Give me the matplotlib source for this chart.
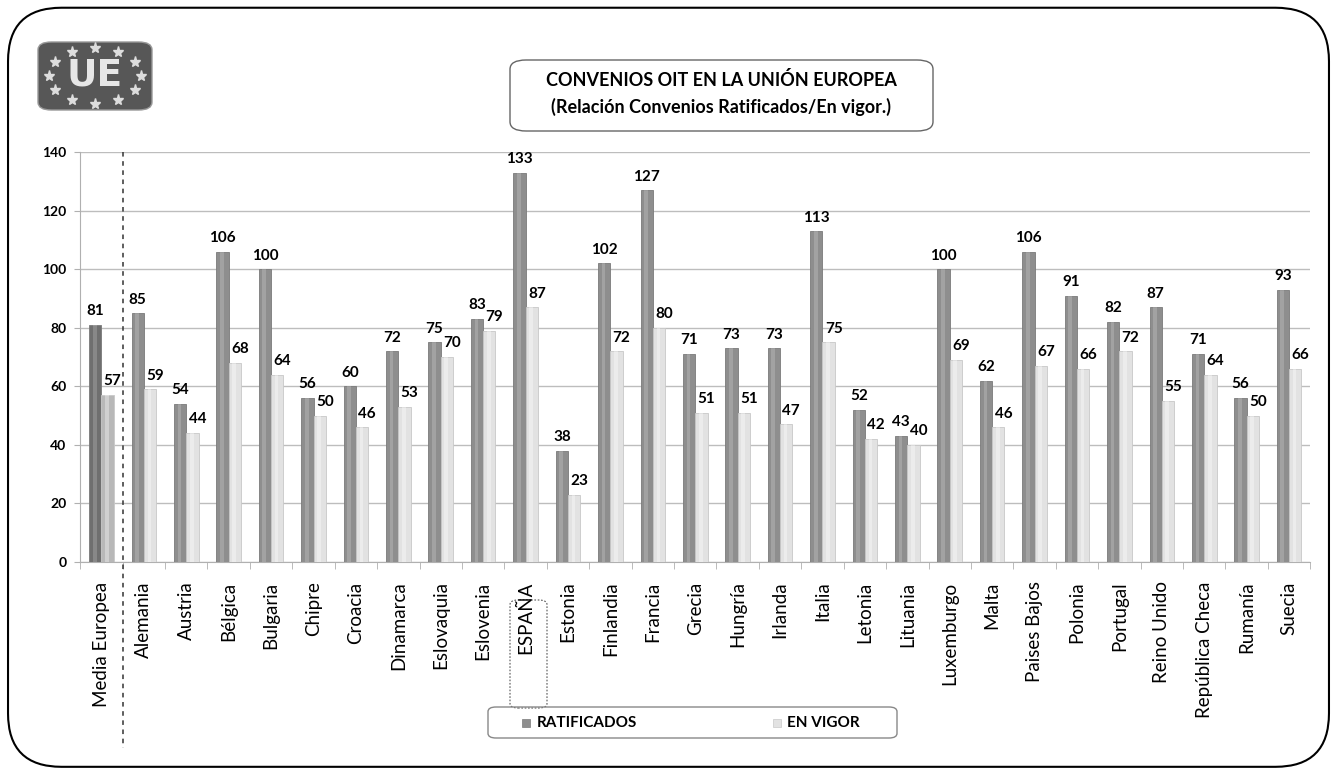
import numpy as np
import matplotlib
matplotlib.use("Agg")
import matplotlib.pyplot as plt
from matplotlib.patches import FancyBboxPatch
from matplotlib.transforms import blended_transform_factory

plt.rcParams['font.family'] = ['Lato', 'DejaVu Sans']

paises = ["Media Europea", "Alemania", "Austria", "Bélgica", "Bulgaria", "Chipre",
          "Croacia", "Dinamarca", "Eslovaquia", "Eslovenia", "ESPAÑA", "Estonia",
          "Finlandia", "Francia", "Grecia", "Hungría", "Irlanda", "Italia", "Letonia",
          "Lituania", "Luxemburgo", "Malta", "Paises Bajos", "Polonia", "Portugal",
          "Reino Unido", "República Checa", "Rumanía", "Suecia"]
ratificados = [81, 85, 54, 106, 100, 56, 60, 72, 75, 83, 133, 38, 102, 127, 71, 73,
               73, 113, 52, 43, 100, 62, 106, 91, 82, 87, 71, 56, 93]
en_vigor = [57, 59, 44, 68, 64, 50, 46, 53, 70, 79, 87, 23, 72, 80, 51, 51, 47, 75,
            42, 40, 69, 46, 67, 66, 72, 55, 64, 50, 66]
yticks = [0, 20, 40, 60, 80, 100, 120, 140]

fig = plt.figure(figsize=(13.37, 7.73), dpi=100)

# outer rounded frame
fig.patches.append(FancyBboxPatch((0.006, 0.008), 0.988, 0.982, boxstyle="round,pad=0,rounding_size=0.04",
                                  transform=fig.transFigure, fill=False, ec="black", lw=1.5,
                                  mutation_aspect=1337 / 773))

ax = fig.add_axes([0.060, 0.273, 0.920, 0.530])
x = np.arange(len(paises))
w = 0.29

col_r = ["#6f6f6f"] + ["#8e8e8e"] * (len(paises) - 1)
col_v = ["#b8b8b8"] + ["#e2e2e2"] * (len(paises) - 1)
ax.bar(x - w / 2, ratificados, w, color=col_r, edgecolor="#7a7a7a", lw=0.6, zorder=3)
ax.bar(x + w / 2, en_vigor, w, color=col_v, edgecolor="#c8c8c8", lw=0.6, zorder=3)
# highlight stripe for a cylinder look
ax.bar(x - w / 2 - w * 0.05, ratificados, w * 0.3, color="white", alpha=0.18, lw=0, zorder=4)
ax.bar(x + w / 2 - w * 0.05, en_vigor, w * 0.3, color="white", alpha=0.35, lw=0, zorder=4)

for xi, r, v in zip(x, ratificados, en_vigor):
    ax.text(xi - w / 2, r + 2.3, str(r), ha="center", va="bottom", fontsize=11, fontweight="bold")
    ax.text(xi + w / 2 + 0.12, v + 2.3, str(v), ha="center", va="bottom", fontsize=11, fontweight="bold")

ax.set_xlim(-0.5, len(paises) - 0.5)
ax.set_ylim(0, 140)
ax.set_yticks(yticks)
ax.set_yticklabels([str(t) for t in yticks], fontweight="bold", fontsize=10)
ax.yaxis.grid(True, color="#bdbdbd", lw=1, zorder=0)
ax.set_axisbelow(True)
for s in ["top", "right"]:
    ax.spines[s].set_visible(False)
ax.spines["left"].set_color("#b0b0b0")
ax.spines["bottom"].set_color("#b0b0b0")
ax.tick_params(axis="y", length=4, color="#b0b0b0", pad=6)

ax.set_xticks(x)
ax.set_xticklabels(paises, rotation=90, fontsize=13.5)
ax.tick_params(axis="x", length=0, pad=14)
ax.set_xticks(np.arange(-0.5, len(paises), 1), minor=True)
ax.tick_params(axis="x", which="minor", length=5, color="#b0b0b0")

# dashed separator after the EU average
tr = blended_transform_factory(ax.transData, ax.transAxes)
ax.plot([0.5, 0.5], [1.0, -0.454], transform=tr, ls=(0, (3, 3)), color="#333333", lw=1.1, clip_on=False)

# dotted box around ESPAÑA
fig.patches.append(FancyBboxPatch((510 / 1337, 1 - 708 / 773), 37 / 1337, 108 / 773,
                                  boxstyle="round,pad=0,rounding_size=0.006", transform=fig.transFigure,
                                  fill=False, ec="#555555", lw=0.8, ls=(0, (1.5, 1.5))))

# title box
fig.patches.append(FancyBboxPatch((510 / 1337, 1 - 131 / 773), 423 / 1337, 71 / 773,
                                  boxstyle="round,pad=0,rounding_size=0.012", transform=fig.transFigure,
                                  fill=False, ec="#666666", lw=1.0))
fig.text(721 / 1337, 1 - 80 / 773, "CONVENIOS OIT EN LA UNIÓN EUROPEA", ha="center", va="center",
         fontsize=13, fontweight="bold")
fig.text(721 / 1337, 1 - 107 / 773, "(Relación Convenios Ratificados/En vigor.)", ha="center", va="center",
         fontsize=13, fontweight="bold")

# logo
fig.patches.append(FancyBboxPatch((38 / 1337, 1 - 110 / 773), 114 / 1337, 68 / 773,
                                  boxstyle="round,pad=0,rounding_size=0.01", transform=fig.transFigure,
                                  fc="#575757", ec="#999999", lw=1.0))
cx, cy = 95 / 1337, 1 - 76 / 773
fig.text(cx, cy, "UE", ha="center", va="center", fontsize=27, fontweight="bold", color="#e6e6e6",
         family="DejaVu Sans")
ang = np.linspace(0, 2 * np.pi, 12, endpoint=False)
fig.add_artist(plt.Line2D(cx + 46 / 1337 * np.cos(ang), cy + 28 / 773 * np.sin(ang),
                          transform=fig.transFigure, ls="none", marker="*", ms=8,
                          color="#dddddd", mec="#dddddd"))

# legend
fig.patches.append(FancyBboxPatch((488 / 1337, 1 - 738 / 773), 409 / 1337, 31 / 773,
                                  boxstyle="round,pad=0,rounding_size=0.006", transform=fig.transFigure,
                                  fill=False, ec="#888888", lw=1.0))
fig.patches.append(plt.Rectangle((522 / 1337, 1 - 727 / 773), 8 / 1337, 8 / 773,
                                 transform=fig.transFigure, fc="#8e8e8e", ec="#7a7a7a", lw=0.5))
fig.text(537 / 1337, 1 - 723 / 773, "RATIFICADOS", ha="left", va="center", fontsize=11, fontweight="bold")
fig.patches.append(plt.Rectangle((773 / 1337, 1 - 727 / 773), 8 / 1337, 8 / 773,
                                 transform=fig.transFigure, fc="#e2e2e2", ec="#c8c8c8", lw=0.5))
fig.text(787 / 1337, 1 - 723 / 773, "EN VIGOR", ha="left", va="center", fontsize=11, fontweight="bold")

fig.savefig("out.png", dpi=100)
